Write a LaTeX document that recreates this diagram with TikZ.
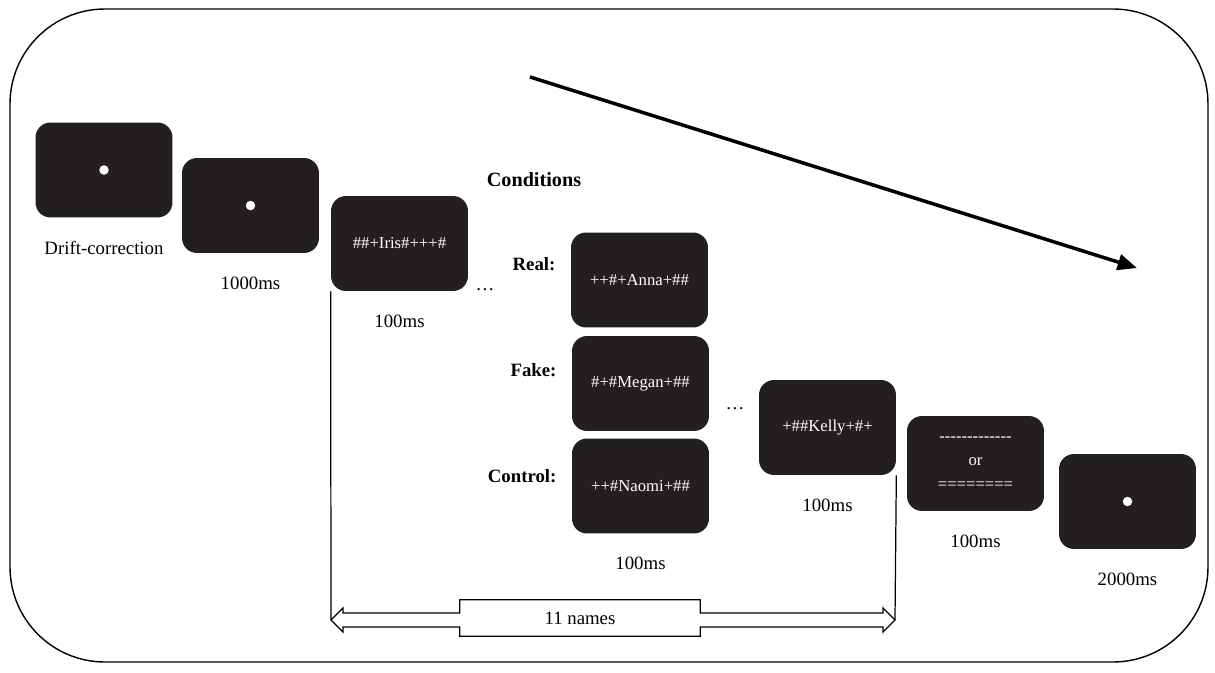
\documentclass[tikz,border=0pt]{standalone}
\usepackage{fontspec}
\setmainfont{Liberation Serif}
\usetikzlibrary{positioning, arrows.meta, calc}
\definecolor{screen}{HTML}{231F20}
\newcommand{\dashrow}{\mbox{-}\mbox{-}\mbox{-}\mbox{-}\mbox{-}\mbox{-}\mbox{-}\mbox{-}\mbox{-}\mbox{-}\mbox{-}\mbox{-}\mbox{-}}
\newcommand{\eqrow}{========}

\begin{document}
\begin{tikzpicture}[
  x=0.02cm, y=-0.02cm,
  node distance=0.34cm,
  every node/.style={font=\fontsize{10.7}{12.8}\selectfont, align=center},
  display/.style={rectangle, fill=screen, rounded corners=0.3cm,
                  minimum width=2.74cm, minimum height=1.9cm, text=white,
                  font=\fontsize{9.5}{13.6}\selectfont},
  fixdot/.style={circle, fill=white, inner sep=0pt, minimum size=0.19cm},
  cond/.style={font=\fontsize{10.7}{12.8}\selectfont\bfseries},
  frame/.style={draw, line width=0.8pt, rounded corners=1.9cm},
  trend/.style={-{Triangle[length=11pt,width=9pt]}, line width=2pt},
  span/.style={draw, line width=0.7pt}
]
\useasboundingbox (0,0) rectangle (1215,673);
\draw[frame] (10,9) rectangle (1208,662);

% screens
\node[display] (drift) at (104,170) {};
\node[fixdot] (driftdot) at (drift) {};
\node[display] (fixation) at (250.5,205.5) {};
\node[fixdot] (fixationdot) at (fixation) {};
\node[display] (iris) at (399.5,243.5) {\#\#+Iris\#+++\#};
\node[display] (anna) at (639.5,280) {++\#+Anna+\#\#};
\node[display] (megan) at (640.5,383.5) {\#+\#Megan+\#\#};
\node[display] (naomi) at (640.5,486) {++\#Naomi+\#\#};
\node[display] (kelly) at (827.5,427.5) {+\#\#Kelly+\#+};
\node[display] (mask) at (975.5,463.5) {\dashrow \\ or \\ \eqrow};
\node[display] (blank) at (1127.5,501.5) {};
\node[fixdot] (blankdot) at (blank) {};

% durations
\node[below=of drift] (driftlabel) {Drift-correction};
\node[below=of fixation] (fixationlabel) {1000ms};
\node[below=of iris] (irislabel) {100ms};
\node[below=of naomi] (namelabel) {100ms};
\node[below=of kelly] (kellylabel) {100ms};
\node[below=of mask] (masklabel) {100ms};
\node[below=of blank] (blanklabel) {2000ms};

\node (gapone) at (485,290) {\ldots};
\node (gaptwo) at (735,409) {\ldots};

\node[font=\fontsize{11.5}{13}\selectfont\bfseries] (conditions) at (534,180) {Conditions};
\node[cond, left=0.18cm of anna, yshift=0.32cm] (real) {Real:};
\node[cond, left=0.18cm of megan, yshift=0.27cm] (fake) {Fake:};
\node[cond, left=0.18cm of naomi, yshift=0.2cm] (control) {Control:};

\coordinate (trendA) at (530,77);
\coordinate (trendB) at (1137,268);
\draw[trend] (trendA) -- (trendB);

% 11 names span
\coordinate (spanL) at (331,620);
\coordinate (spanR) at (895,620);
\draw[span] (iris.south west) -- (spanL);
\draw[span] (kelly.south east) -- (spanR);
\node[minimum width=4.8cm, minimum height=0.72cm] (names) at (580,618) {11 names};
\draw[span] (spanL) -- ++(12,-12) -- ++(0,5) -| (names.north west) -- (names.north east)
  |- ($(spanR)+(-12,-7)$) -- ++(0,-5) -- (spanR) -- ++(-12,12) -- ++(0,-5)
  -| (names.south east) -- (names.south west) |- ($(spanL)+(12,7)$) -- ++(0,5) -- cycle;
\end{tikzpicture}
\end{document}
